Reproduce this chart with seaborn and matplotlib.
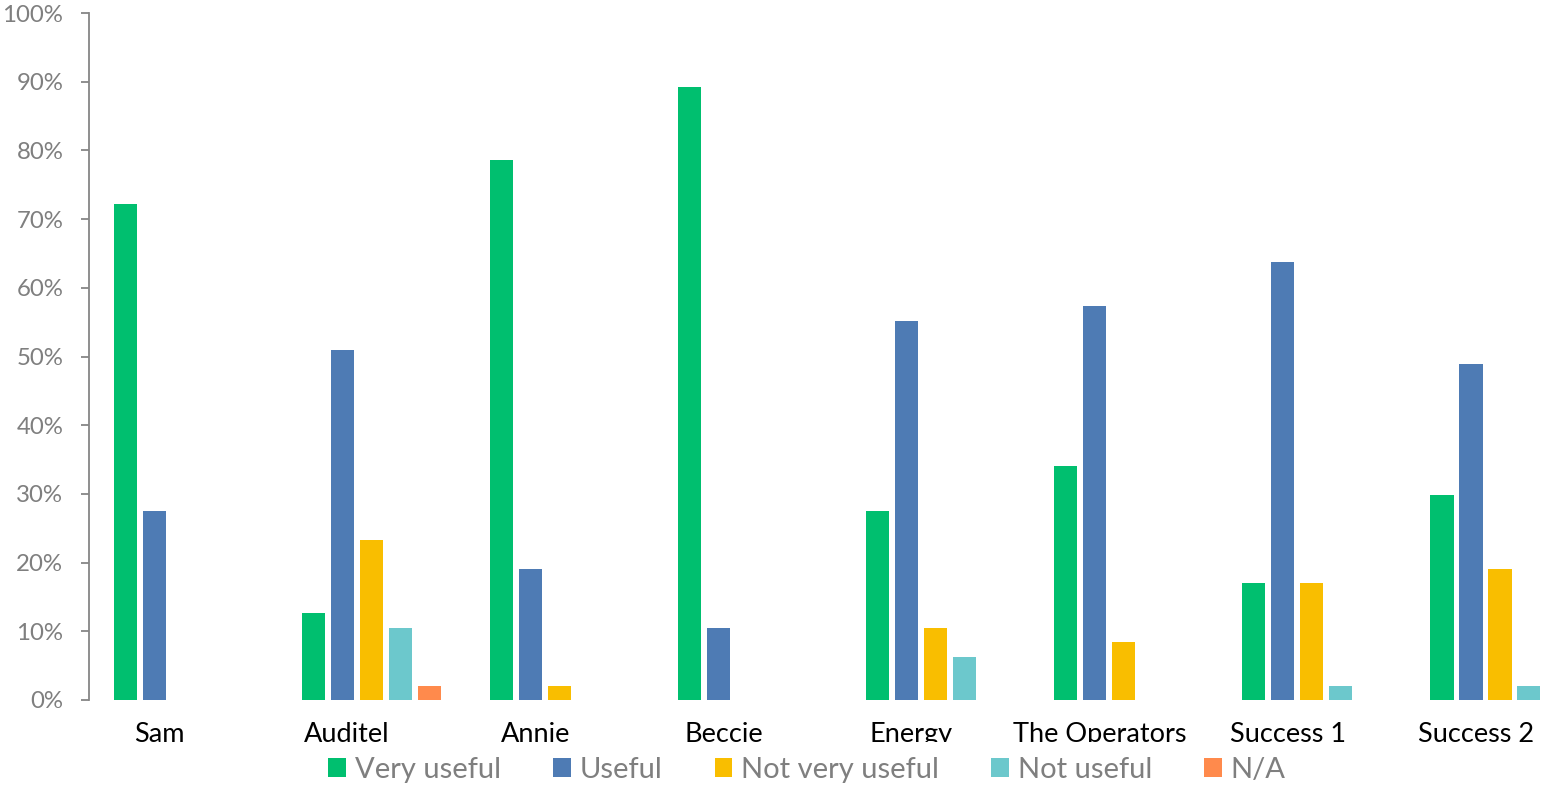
import matplotlib
matplotlib.use("Agg")
import matplotlib.pyplot as plt
import matplotlib.transforms as mtransforms
import seaborn as sns
import pandas as pd
from matplotlib.ticker import PercentFormatter
from matplotlib.patches import Rectangle

categories = ["Sam", "Auditel", "Annie", "Beccie", "Energy", "The Operators", "Success 1", "Success 2"]
series = ["Very useful", "Useful", "Not very useful", "Not useful", "N/A"]
very_useful = [72.2, 12.7, 78.6, 89.2, 27.5, 34.0, 17.0, 29.8]
useful = [27.5, 51.0, 19.1, 10.5, 55.2, 57.4, 63.8, 48.9]
not_very_useful = [0, 23.3, 2.0, 0, 10.5, 8.5, 17.0, 19.1]
not_useful = [0, 10.5, 0, 0, 6.3, 0, 2.0, 2.0]
na = [0, 2.0, 0, 0, 0, 0, 0, 0]
colors = ["#00BF6F", "#4E7BB4", "#F9BE00", "#6CC8CC", "#FF8A4C"]

values = [very_useful, useful, not_very_useful, not_useful, na]
rows = []
for s, vals in zip(series, values):
    for c, v in zip(categories, vals):
        rows.append({"Category": c, "Series": s, "Value": v})
df = pd.DataFrame(rows)

sns.set_style("white")
plt.rcParams["font.family"] = ["Lato", "DejaVu Sans"]

fig = plt.figure(figsize=(15.43, 7.86), dpi=100)
ax = fig.add_axes([89 / 1543, 1 - 700 / 786, (1594 - 89) / 1543, (700 - 13) / 786])

sns.barplot(data=df, x="Category", y="Value", hue="Series", order=categories,
            hue_order=series, palette=colors, width=0.77, gap=0.2,
            saturation=1, ax=ax, legend=True, linewidth=0)

ax.set_ylim(0, 100)
ax.set_xlim(-0.5, 7.5)
ax.set_yticks(range(0, 101, 10))
ax.yaxis.set_major_formatter(PercentFormatter(decimals=0))
ax.set_xlabel("")
ax.set_ylabel("")
for sp in ["top", "right", "bottom"]:
    ax.spines[sp].set_visible(False)
ax.spines["left"].set_color("#868686")
ax.spines["left"].set_linewidth(1.3)
ax.tick_params(axis="y", left=True, length=6, width=1.3, color="#868686",
               labelsize=17.3, labelcolor="#7F7F7F", pad=12.5)
ax.tick_params(axis="x", bottom=False, labelsize=19.5, labelcolor="black", pad=12)

# category labels sit a little left of the group centres, as in the original
shift = mtransforms.ScaledTranslation(-24 / 100, 0, fig.dpi_scale_trans)
clip_rect = Rectangle((0, 1 - 742 / 786), 1, 742 / 786, transform=fig.transFigure)
for lbl in ax.get_xticklabels():
    lbl.set_transform(lbl.get_transform() + shift)
    lbl.set_clip_path(clip_rect)

leg = ax.legend(loc="center", bbox_to_anchor=(807 / 1543, 1 - 770 / 786),
                bbox_transform=fig.transFigure, ncol=5, frameon=False,
                fontsize=21, handlelength=0.6, handleheight=0.6,
                columnspacing=1.8, handletextpad=0.3, borderpad=0, borderaxespad=0)
for t in leg.get_texts():
    t.set_color("#7F7F7F")

fig.savefig("out.png", dpi=100)
